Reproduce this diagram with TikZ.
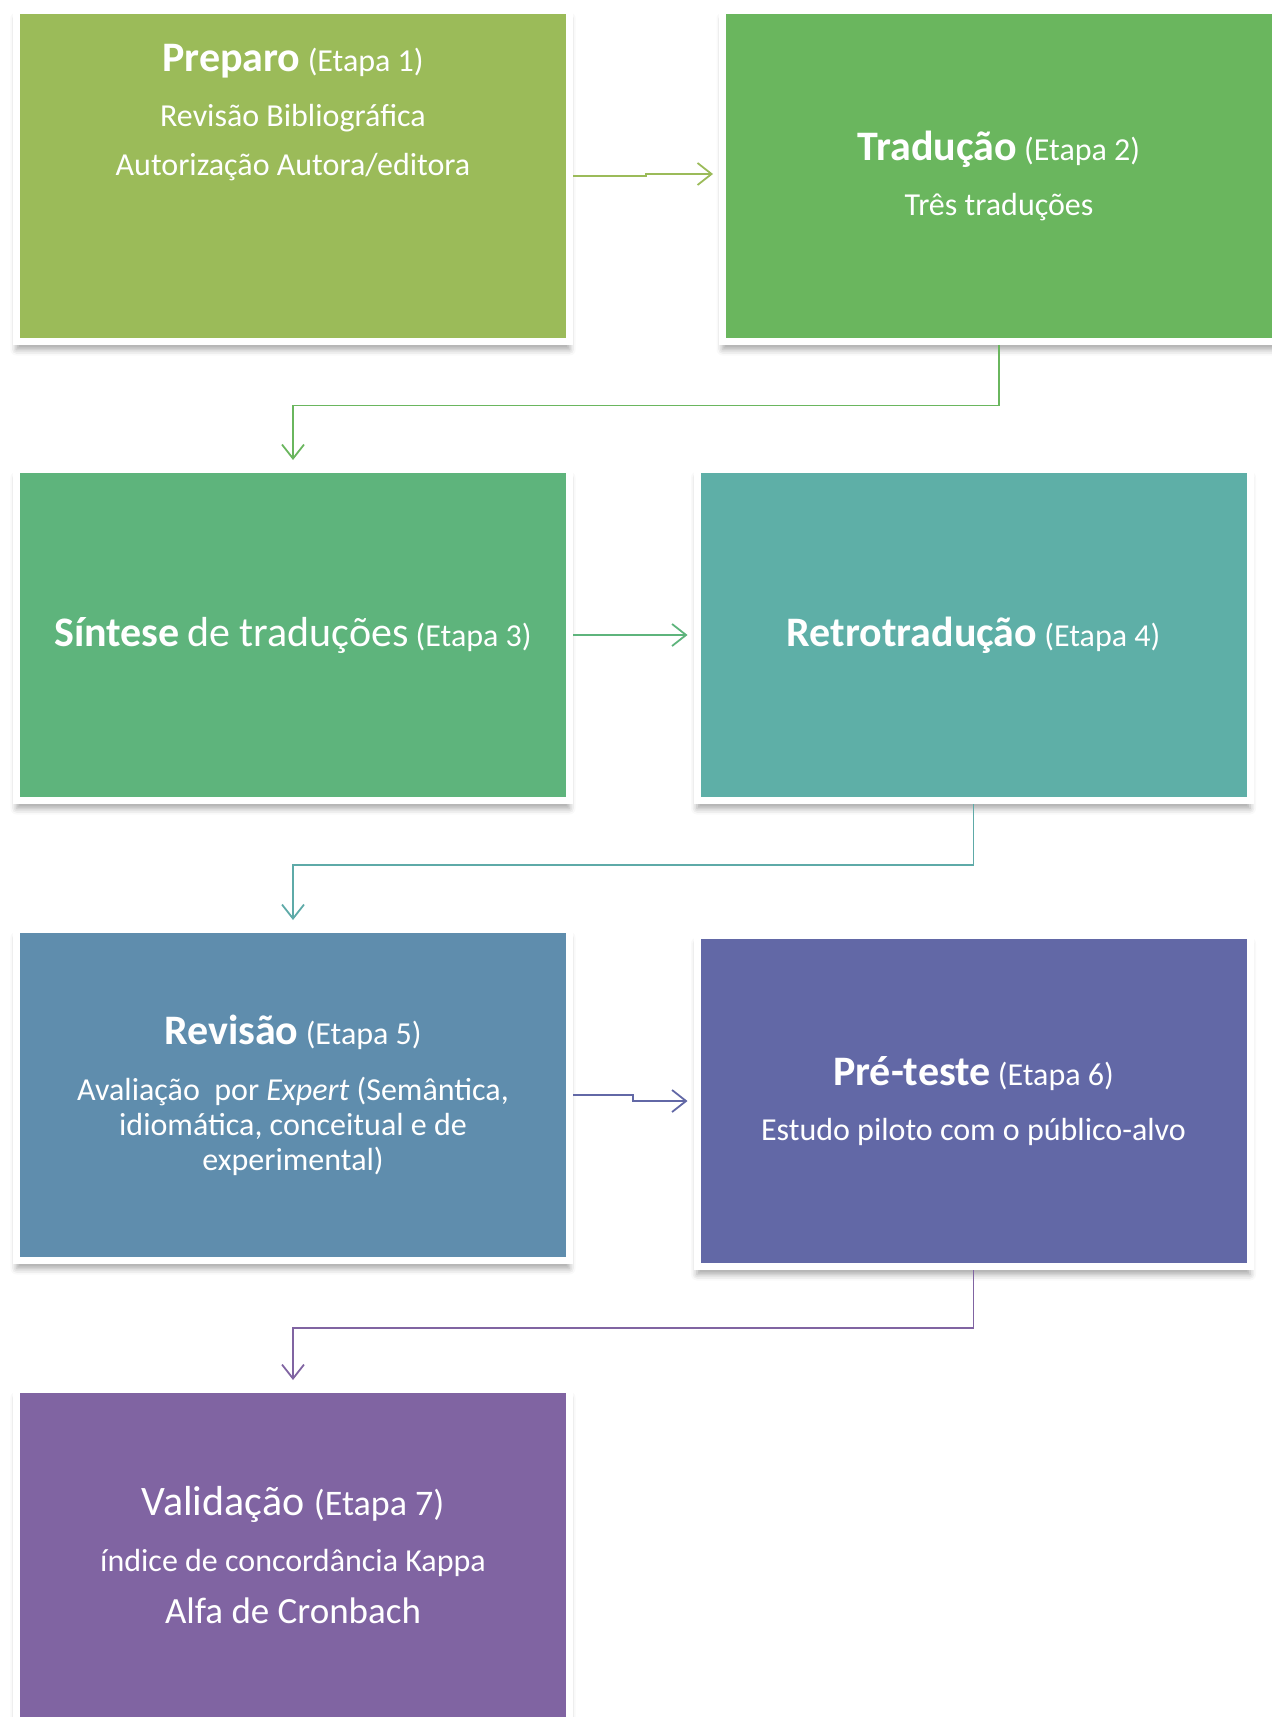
\documentclass[tikz,border=0pt]{standalone}
\usepackage{fontspec}
\setmainfont{Carlito}
\usetikzlibrary{positioning,calc,arrows.meta,shadows.blur}

\definecolor{etapaA}{HTML}{9BBB59}
\definecolor{etapaB}{HTML}{6AB65E}
\definecolor{etapaC}{HTML}{5EB47C}
\definecolor{etapaD}{HTML}{5EAFA7}
\definecolor{etapaE}{HTML}{5F8DAD}
\definecolor{etapaF}{HTML}{6268A6}
\definecolor{etapaG}{HTML}{8064A2}

\newcommand{\corpo}{\fontsize{16}{17.5}\selectfont\lineskiplimit=-100pt\relax}
\newcommand{\tit}[1]{{\fontsize{21}{17.5}\selectfont\bfseries #1}}
\newcommand{\grande}[1]{{\fontsize{21}{17.5}\selectfont #1}}

\begin{document}
\begin{tikzpicture}[x=0.5pt,y=-0.5pt,
      etapa/.style={rectangle, draw=white, line width=3.5pt, text=white, minimum width=276.5pt, minimum height=165.5pt, align=center, font=\corpo, blur shadow={shadow xshift=0pt, shadow yshift=-4pt, shadow blur radius=3pt, shadow opacity=35}},
      seta/.style={-{Straight Barb[length=7pt,width=11pt]}, line width=0.9pt, shorten >=3pt}]
      \useasboundingbox (0,0) rectangle (1272,1717);
      \node[etapa, fill=etapaA] (b1) at (293,176) {\parbox[c][132pt][t]{270pt}{\centering\tit{Preparo} (Etapa 1)\\[10pt] Revisão Bibliográfica\\[7pt] Autorização Autora/editora}};
      \node[etapa, fill=etapaB] (b2) at (999,176) {\tit{Tradução} (Etapa 2)\\[10pt] Três traduções};
      \node[etapa, fill=etapaC] (b3) at (293,635) {\tit{Síntese} \grande{de traduções} (Etapa 3)};
      \node[etapa, fill=etapaD] (b4) at (973.5,635) {\tit{Retrotradução} (Etapa 4)};
      \node[etapa, fill=etapaE] (b5) at (293,1095) {\tit{Revisão} (Etapa 5)\\[10.5pt] Avaliação~ por \textit{Expert} (Semântica,\\ idiomática, conceitual e de\\ experimental)};
      \node[etapa, fill=etapaF] (b6) at (973.5,1101) {\tit{Pré-teste} (Etapa 6)\\[10pt] Estudo piloto com o público-alvo};
      \node[etapa, fill=etapaG] (b7) at (293,1555) {\grande{Validação {\fontsize{18}{17.5}\selectfont(Etapa 7)}}\\[10.5pt] índice de concordância Kappa\\[8.5pt] {\fontsize{18.5}{17.5}\selectfont Alfa de Cronbach}};

      % ligacoes entre etapas
      \draw[seta, draw=etapaA] (b1.east) -- ++(73,0) |- ([yshift=1pt]b2.west);
      \draw[seta, draw=etapaB] (b2.south) |- ($(b2.south)!.5!(b3.north)$) -| (b3.north);
      \draw[seta, draw=etapaC] (b3.east) -- (b4.west);
      \draw[seta, draw=etapaD!85!etapaE] (b4.south) |- ($(b4.south)!.5!(b5.north)$) -| (b5.north);
      \draw[seta, draw=etapaF] (b5.east) -- ++(60,0) |- (b6.west);
      \draw[seta, draw=etapaG] (b6.south) |- ($(b6.south)!.5!(b7.north)$) -| (b7.north);
\end{tikzpicture}
\end{document}
